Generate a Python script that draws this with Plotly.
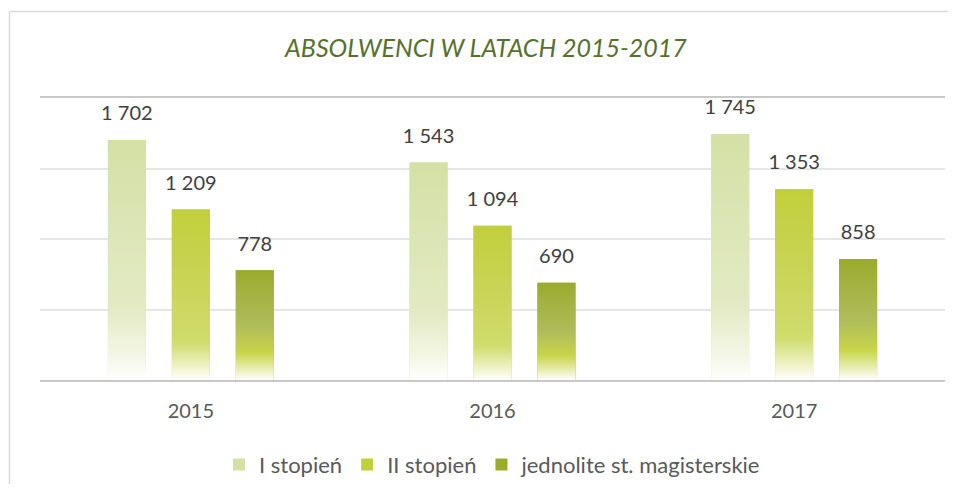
"""Absolwenci w latach 2015-2017 — gradient bar chart."""

import plotly.graph_objects as go

years = ["2015", "2016", "2017"]
series_names = ["I stopień", "II stopień", "jednolite st. magisterskie"]
i_stopien = [1702, 1543, 1745]
ii_stopien = [1209, 1094, 1353]
jednolite = [778, 690, 858]

_FONT = "Lato, 'Open Sans', Arial, sans-serif"
_TEXT = "#404040"

# top colour + gradient stops (bottom -> top) for each series
_COLORS = ["#d5e0a5", "#c2cf3c", "#9aab2e"]
_GRADIENTS = [
    [[0, "rgba(255,255,255,1)"], [0.1, "#f4f7e6"], [0.3, "#e3eac4"], [1, "#d5e0a5"]],
    [[0, "rgba(255,255,255,1)"], [0.08, "#eef3c6"], [0.22, "#d0dc6c"], [0.6, "#c8d454"], [1, "#c2cf3c"]],
    [[0, "rgba(255,255,255,1)"], [0.1, "#e8eeb4"], [0.25, "#c8d548"], [0.5, "#b0bc5a"], [1, "#9aab2e"]],
]

PITCH = 0.212
WIDTH = 0.126

fig = go.Figure()
x_idx = list(range(len(years)))

for k, (name, vals) in enumerate(zip(series_names, [i_stopien, ii_stopien, jednolite])):
    off = (k - 1) * PITCH
    xs = [i + off for i in x_idx]
    fig.add_trace(go.Bar(
        x=xs, y=vals, width=WIDTH, name=name,
        marker=dict(color=_COLORS[k], line_width=0),
        hoverinfo="skip",
    ))
    # gradient shading drawn over each bar
    for x, v in zip(xs, vals):
        fig.add_trace(go.Scatter(
            x=[x - WIDTH / 2, x + WIDTH / 2, x + WIDTH / 2, x - WIDTH / 2, x - WIDTH / 2],
            y=[0, 0, v, v, 0],
            mode="lines", fill="toself", line=dict(width=0),
            fillgradient=dict(type="vertical", colorscale=_GRADIENTS[k], start=0, stop=v),
            showlegend=False, hoverinfo="skip",
        ))
    # data labels
    fig.add_trace(go.Scatter(
        x=xs, y=vals, mode="markers+text",
        marker=dict(size=22, opacity=0),
        text=[f"{v:,}".replace(",", " ") for v in vals],
        textposition="top center",
        textfont=dict(size=20, color=_TEXT, family=_FONT),
        showlegend=False, hoverinfo="skip", cliponaxis=False,
    ))

# the page body adds an 8px margin, so the figure is a bit smaller than the window
fig.update_layout(
    width=940, height=476,
    margin=dict(l=32, r=3, t=90, b=104, autoexpand=False),
    paper_bgcolor="white", plot_bgcolor="white",
    barmode="overlay",
    font=dict(family=_FONT, color=_TEXT),
    title=dict(
        text="ABSOLWENCI W LATACH 2015-2017",
        font=dict(size=25, color="#56702e", style="italic", family=_FONT),
        xref="container", x=0.5085, xanchor="center",
        yref="container", y=0.916, yanchor="middle",
    ),
    legend=dict(
        orientation="h", xanchor="center", x=0.5, yanchor="middle", y=-0.30,
        font=dict(size=22, color="#595959"), traceorder="normal",
    ),
    showlegend=True,
)

fig.update_xaxes(
    range=[-0.5, 2.5], tickvals=x_idx, ticktext=years,
    tickfont=dict(size=20, color="#595959"), ticks="", ticklabelstandoff=12,
    showgrid=False, zeroline=False,
    showline=True, mirror=True, linecolor="#c8c8c8", linewidth=2,
)
fig.update_yaxes(
    range=[0, 2000], dtick=500, showticklabels=False,
    gridcolor="#e6e6e6", gridwidth=1.5, zeroline=False,
)

# outer chart frame: only the left and top edges are visible
_frame = dict(color="#d9d9d9", width=1.5)
fig.add_shape(type="line", xref="paper", yref="paper",
              x0=-0.0337, x1=-0.0337, y0=-0.45, y1=1.3067, line=_frame, layer="below")
fig.add_shape(type="line", xref="paper", yref="paper",
              x0=-0.0337, x1=1.01, y0=1.3067, y1=1.3067, line=_frame, layer="below")

fig.write_html("out.html")
